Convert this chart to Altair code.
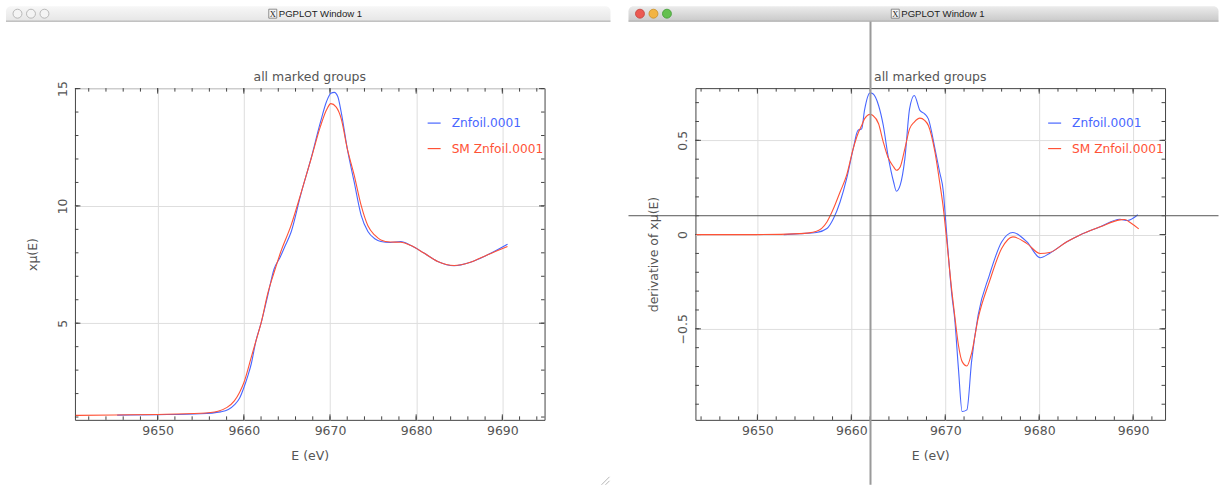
import altair as alt
import pandas as pd

# ---------------- data ----------------
SERIES = ["Znfoil.0001", "SM Znfoil.0001"]
WINDOW_TITLE = "PGPLOT Window 1"
PLOT_TITLE = "all marked groups"
X_TITLE = "E (eV)"
Y_TITLES = ["xμ(E)", "derivative of xμ(E)"]
X_TICKS = [9650, 9660, 9670, 9680, 9690]
MU_TICKS = [5, 10, 15]
DER_TICKS = [-0.5, 0, 0.5]

# left window: x mu(E)
mu_blue_E = [9645.3, 9650, 9655, 9657.3, 9658.2, 9658.9, 9659.5, 9660, 9660.5, 9660.85,
             9661.4, 9662, 9662.8, 9663.5, 9664.2, 9664.8, 9665.5, 9666.6, 9667.8, 9668.9,
             9669.6, 9670.1, 9670.5, 9670.9, 9671.3, 9672, 9672.8, 9673.6, 9674.4, 9675.2,
             9675.9, 9677, 9678.2, 9679.4, 9680.9, 9682.5, 9684.4, 9686.3, 9688.3, 9690.6]
mu_blue = [1.08, 1.10, 1.14, 1.22, 1.32, 1.52, 1.80, 2.25, 2.80, 3.25,
           4.24, 5.00, 6.22, 7.30, 7.80, 8.30, 8.90, 10.47, 12.02, 13.58,
           14.45, 14.80, 14.84, 14.66, 14.00, 12.45, 11.03, 9.62, 8.91, 8.60,
           8.48, 8.44, 8.48, 8.31, 7.99, 7.63, 7.45, 7.60, 7.92, 8.37]
mu_red_E = [9640.5, 9645, 9650, 9655, 9657, 9658, 9658.9, 9659.5, 9660, 9660.85,
            9661.4, 9662, 9662.8, 9663.5, 9664.2, 9665.5, 9666.6, 9667.8, 9668.9, 9669.6,
            9670.1, 9670.7, 9671.3, 9672, 9672.8, 9673.6, 9674.4, 9675.2, 9675.9, 9677,
            9678.2, 9679.4, 9680.9, 9682.5, 9684.4, 9686.3, 9688.3, 9690.6]
mu_red = [1.07, 1.09, 1.11, 1.16, 1.25, 1.40, 1.69, 2.05, 2.46, 3.53,
          4.24, 5.00, 6.30, 7.15, 7.95, 9.19, 10.50, 12.00, 13.40, 14.10,
          14.36, 14.22, 13.72, 12.45, 11.32, 10.04, 9.15, 8.75, 8.55, 8.46,
          8.45, 8.31, 7.99, 7.63, 7.46, 7.60, 7.92, 8.27]

# right window: derivative of x mu(E)
der_blue_E = [9652.8, 9654.5, 9656.3, 9657.4, 9658.1, 9658.8, 9659.5, 9660.2, 9660.7, 9661.1,
              9661.4, 9662.0, 9662.3, 9662.9, 9663.4, 9663.9, 9664.5, 9664.8, 9665.2, 9665.7,
              9666.2, 9666.7, 9667.3, 9667.8, 9668.2, 9668.9, 9669.4, 9669.8, 9670.0, 9670.3,
              9670.7, 9671.0, 9671.4, 9671.8, 9672.3, 9672.8, 9673.5, 9674.7, 9676.0, 9677.2,
              9678.7, 9680.1, 9681.1, 9682.9, 9684.3, 9686.5, 9688.6, 9689.4, 9690.5]
der_blue = [0.0, 0.005, 0.011, 0.032, 0.085, 0.173, 0.297, 0.456, 0.553, 0.561,
            0.659, 0.752, 0.747, 0.685, 0.579, 0.420, 0.279, 0.230, 0.262, 0.403,
            0.667, 0.738, 0.659, 0.641, 0.614, 0.456, 0.332, 0.226, 0.100, -0.090,
            -0.320, -0.445, -0.710, -0.939, -0.930, -0.674, -0.427, -0.215, -0.039, 0.011,
            -0.039, -0.123, -0.100, -0.039, -0.003, 0.041, 0.081, 0.075, 0.105]
der_red_E = [9643.5, 9650, 9654.5, 9656.3, 9657.4, 9658.1, 9658.8, 9659.5, 9660.2, 9660.7,
             9661.1, 9661.4, 9662.0, 9662.3, 9662.9, 9663.4, 9663.9, 9664.5, 9664.8, 9665.2,
             9665.7, 9666.2, 9666.7, 9667.3, 9667.8, 9668.2, 9668.9, 9669.4, 9669.8, 9670.1,
             9670.7, 9671.0, 9671.4, 9671.8, 9672.3, 9672.8, 9673.5, 9674.7, 9676.0, 9677.2,
             9678.7, 9680.1, 9681.1, 9682.9, 9684.3, 9686.5, 9688.6, 9689.1, 9689.8, 9690.6]
der_red = [0.0, 0.0, 0.005, 0.018, 0.067, 0.138, 0.226, 0.315, 0.456, 0.535,
           0.579, 0.614, 0.638, 0.632, 0.588, 0.491, 0.410, 0.359, 0.341, 0.359,
           0.456, 0.561, 0.597, 0.618, 0.606, 0.579, 0.438, 0.279, 0.138, -0.003,
           -0.300, -0.427, -0.586, -0.674, -0.697, -0.630, -0.445, -0.250, -0.074, -0.012,
           -0.048, -0.100, -0.095, -0.039, -0.003, 0.041, 0.078, 0.080, 0.060, 0.030]

CROSS_E = 9662.04   # cursor crosshair (right window)
CROSS_V = 0.10

# ---------------- styling ----------------
W, H = 470, 332
BLUE = "#4866ff"
RED = "#ff5236"
FONT = "DejaVu Sans"
TXT = "#555555"
FRAME = "#444444"
GRID = "#dedede"
ONE = pd.DataFrame({"k": [0]})


def window_decor(left, right, active):
    """Mac OS X style window title bar drawn around the plot (pixel offsets)."""
    top, bar_b = -82, -67
    if active:
        fill = alt.Gradient(gradient="linear", x1=0, x2=0, y1=0, y2=1,
                            stops=[alt.GradientStop(color="#ececec", offset=0),
                                   alt.GradientStop(color="#c9c9c9", offset=1)])
        lights = [("#ec5a52", "#c2403a"), ("#f3b443", "#c98e26"), ("#64c04f", "#3f9a33")]
    else:
        fill = alt.Gradient(gradient="linear", x1=0, x2=0, y1=0, y2=1,
                            stops=[alt.GradientStop(color="#f7f7f7", offset=0),
                                   alt.GradientStop(color="#e6e6e6", offset=1)])
        lights = [("#f4f4f4", "#a9a9a9")] * 3
    layers = [
        alt.Chart(ONE).mark_rect(fill=fill, cornerRadiusTopLeft=5, cornerRadiusTopRight=5, clip=False)
        .encode(x=alt.value(left), x2=alt.value(right), y=alt.value(top), y2=alt.value(bar_b)),
        alt.Chart(ONE).mark_rule(color="#a8a8a8", strokeWidth=1, clip=False)
        .encode(x=alt.value(left), x2=alt.value(right), y=alt.value(bar_b), y2=alt.value(bar_b)),
    ]
    for i, (fc, sc) in enumerate(lights):
        layers.append(
            alt.Chart(ONE).mark_circle(fill=fc, stroke=sc, strokeWidth=0.8, opacity=1, clip=False)
            .encode(x=alt.value(left + 11.5 + 13.5 * i), y=alt.value(-74.5), size=alt.value(80))
        )
    icon_x = left + 263
    layers += [
        alt.Chart(ONE).mark_rect(fill="#f4f4f4", stroke="#666666", strokeWidth=0.7, clip=False)
        .encode(x=alt.value(icon_x), x2=alt.value(icon_x + 8), y=alt.value(-79), y2=alt.value(-70)),
        alt.Chart(ONE).mark_text(font="Liberation Serif", fontSize=8.5, color="#222222", clip=False)
        .encode(x=alt.value(icon_x + 4), y=alt.value(-74.3), text=alt.value("X")),
        alt.Chart(ONE).mark_text(font="Liberation Sans", fontSize=9.6, align="left",
                                 baseline="middle", color="#222222", clip=False)
        .encode(x=alt.value(icon_x + 10), y=alt.value(-74.3), text=alt.value(WINDOW_TITLE)),
    ]
    return layers


def panel(series_data, xdom, ydom, yticks, yminor, xminor, ytitle, yfmt, active):
    xs = alt.Scale(domain=xdom, nice=False, zero=False)
    ys = alt.Scale(domain=ydom, nice=False, zero=False)
    xax = alt.Axis(values=X_TICKS, format="d", title=X_TITLE, grid=True, domain=False, ticks=False,
                   labelPadding=5, titleY=36, titleBaseline="middle")
    yax = alt.Axis(values=yticks, format=yfmt, title=ytitle, grid=True, domain=False, ticks=False,
                   labelAngle=270, labelAlign="center", labelBaseline="alphabetic", labelPadding=8.5,
                   titleAngle=270, titleX=-42, titleY=H / 2, titleAlign="center", titleBaseline="middle")

    def X():
        return alt.X("E:Q", scale=xs, axis=xax)

    def Y():
        return alt.Y("v:Q", scale=ys, axis=yax)

    layers = []
    # inward ticks on all four sides
    xmaj = pd.DataFrame({"E": X_TICKS})
    xmin = pd.DataFrame({"E": xminor})
    ymaj = pd.DataFrame({"v": yticks})
    ymin = pd.DataFrame({"v": yminor})
    for df, ln in ((xmin, 3.5), (xmaj, 5.5)):
        layers.append(alt.Chart(df).mark_rule(color=FRAME, strokeWidth=1)
                      .encode(x=X(), y=alt.value(H), y2=alt.value(H - ln)))
        layers.append(alt.Chart(df).mark_rule(color=FRAME, strokeWidth=1)
                      .encode(x=X(), y=alt.value(0), y2=alt.value(ln)))
    for df, ln in ((ymin, 3.5), (ymaj, 5.5)):
        layers.append(alt.Chart(df).mark_rule(color=FRAME, strokeWidth=1)
                      .encode(y=Y(), x=alt.value(0), x2=alt.value(ln)))
        layers.append(alt.Chart(df).mark_rule(color=FRAME, strokeWidth=1)
                      .encode(y=Y(), x=alt.value(W), x2=alt.value(W - ln)))

    # the two spectra (blue first, smoothed red drawn on top)
    for (E, v), colr in zip(series_data, (BLUE, RED)):
        df = pd.DataFrame({"E": E, "v": v})
        layers.append(alt.Chart(df).mark_line(color=colr, strokeWidth=1.1, interpolate="monotone", clip=True)
                      .encode(x=X(), y=Y()))

    # in-plot legend
    for i, (name, colr) in enumerate(zip(SERIES, (BLUE, RED))):
        yy = 35 + 25.5 * i
        layers.append(alt.Chart(ONE).mark_rule(color=colr, strokeWidth=1.2)
                      .encode(x=alt.value(353), x2=alt.value(366), y=alt.value(yy), y2=alt.value(yy)))
        layers.append(alt.Chart(ONE).mark_text(font=FONT, fontSize=12.2, align="left", baseline="middle",
                                               color=colr, clip=False)
                      .encode(x=alt.value(377), y=alt.value(yy), text=alt.value(name)))

    # plot title
    layers.append(alt.Chart(ONE).mark_text(font=FONT, fontSize=12.5, color=TXT, baseline="middle", clip=False)
                  .encode(x=alt.value(W / 2), y=alt.value(-11), text=alt.value(PLOT_TITLE)))

    if active:
        cx = pd.DataFrame({"E": [CROSS_E]})
        cy = pd.DataFrame({"v": [CROSS_V]})
        layers.append(alt.Chart(cx).mark_rule(color="#9a9a9a", strokeWidth=2, clip=False)
                      .encode(x=X(), y=alt.value(-67), y2=alt.value(397)))
        layers.append(alt.Chart(cy).mark_rule(color="#555555", strokeWidth=1, clip=False)
                      .encode(y=Y(), x=alt.value(-67), x2=alt.value(523.5)))
        layers += window_decor(-67, 523.5, True)
    else:
        layers += window_decor(-69, 536, False)
        for (a, b, c, d) in ((527, 397, 535, 389), (531, 397, 535, 393)):
            layers.append(alt.Chart(ONE).mark_rule(color="#b5b5b5", strokeWidth=1, clip=False)
                          .encode(x=alt.value(a), y=alt.value(b), x2=alt.value(c), y2=alt.value(d)))

    return alt.layer(*layers).properties(width=W, height=H)


left = panel([(mu_blue_E, mu_blue), (mu_red_E, mu_red)], [9640.4, 9694.9], [0.88, 15.02],
             MU_TICKS, list(range(1, 16)), list(range(9642, 9695, 2)), Y_TITLES[0], "d", False)
right = panel([(der_blue_E, der_blue), (der_red_E, der_red)], [9643.4, 9693.4], [-0.983, 0.777],
              DER_TICKS, [round(-0.9 + 0.1 * i, 1) for i in range(17)], list(range(9644, 9694, 2)),
              Y_TITLES[1], "~g", True)

chart = (
    alt.hconcat(left, right, spacing=151, bounds="flush")
    .properties(padding={"left": 5, "top": 5, "right": 0, "bottom": 0}, background="white")
    .configure_view(stroke=FRAME, strokeWidth=1)
    .configure_axis(gridColor=GRID, gridWidth=1, labelFont=FONT, labelFontSize=12.5, labelColor=TXT,
                    titleFont=FONT, titleFontSize=12.5, titleColor=TXT, titleFontWeight="normal")
)

chart.save("out.html", embed_options={"renderer": "svg", "actions": False})
